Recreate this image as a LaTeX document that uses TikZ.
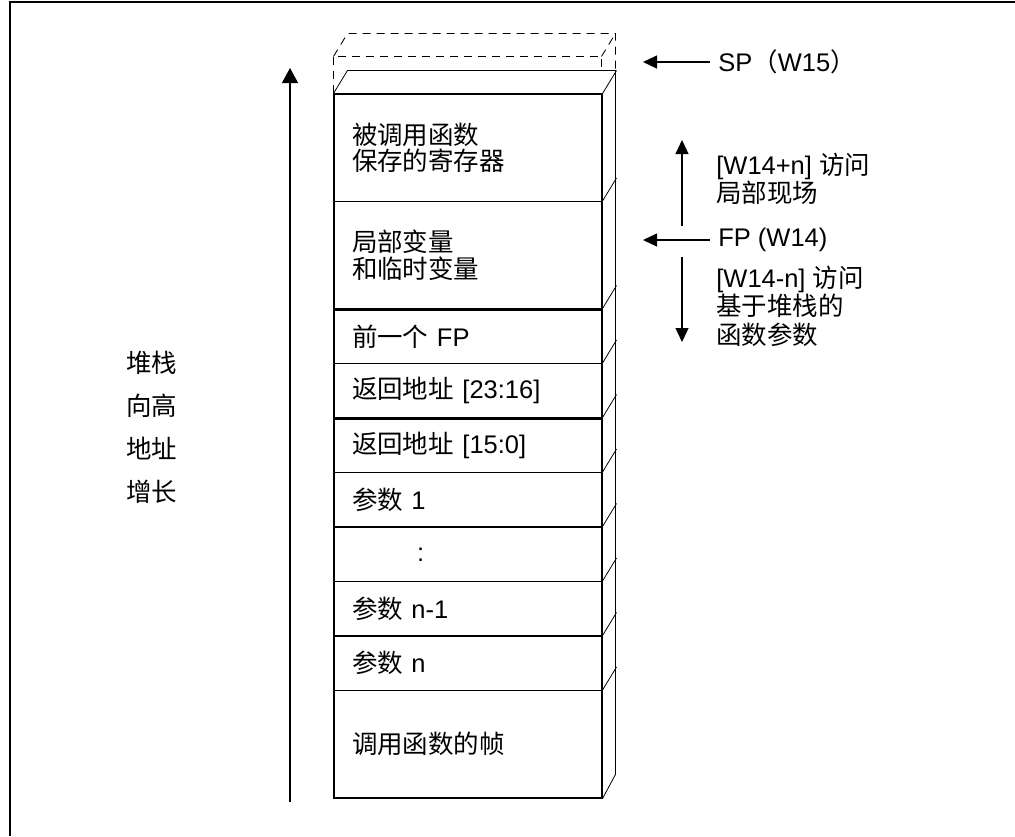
\documentclass[tikz,border=0pt]{standalone}
\usepackage{fontspec}
\setmainfont{Liberation Sans}
\newfontfamily\cjk{Noto Sans CJK SC}
\newcommand{\zh}[1]{{\cjk #1}}
\usetikzlibrary{arrows.meta}

\tikzset{
  slot/.style={draw, line width=0.6pt, minimum width=53.6mm, text width=46.4mm, inner xsep=3.6mm, align=left},
  slim/.style={slot, minimum height=10.9mm},
  tall/.style={slot, minimum height=21.5mm},
  depth/.style={line width=0.45pt},
  slotdash/.style={line width=0.5pt, dash pattern=on 1.6mm off 1.2mm},
  ptr/.style={-{Triangle[length=2.8mm,width=2.6mm]}, line width=0.6pt},
  note/.style={anchor=west, inner sep=1.6mm, align=left},
}

\begin{document}
\begin{tikzpicture}[x=0.2mm, y=-0.2mm, font=\fontsize{14.5}{15}\selectfont]
    \useasboundingbox (0,0) rectangle (1015,836);

    % frame
    \draw[line width=0.4mm] (10,836) -- (10,2) -- (1015,2);

    % stack slots
    \node[tall] (r1) at (468,147.75) {\zh{被调用函数}\\\zh{保存的寄存器}};
    \node[tall] (r2) at (468,255.25) {\zh{局部变量}\\\zh{和临时变量}};
    \node[slim] (r3) at (468,336.25) {\zh{前一个} FP};
    \node[slim] (r4) at (468,390.75) {\zh{返回地址} [23:16]};
    \node[slim] (r5) at (468,445.25) {\zh{返回地址} [15:0]};
    \node[slim] (r6) at (468,499.75) {\zh{参数} 1};
    \node[slim] (r7) at (468,554.25) {\hspace*{13mm}:};
    \node[slim] (r8) at (468,608.75) {\zh{参数} n-1};
    \node[slim] (r9) at (468,663.25) {\zh{参数} n};
    \node[tall] (r10) at (468,744.25) {\zh{调用函数的帧}};

    \draw[line width=1.2pt] (r2.south west) -- (r2.south east);
    \draw[line width=1.2pt] (r4.south west) -- (r4.south east);

    % depth of the stack
    \draw[depth] (r1.north west) -- ++(14,-23) -- ++(268,0) -- ++(0,704) -- (r10.south east);
    \foreach \i in {1,...,10}
        \draw[depth] (r\i.north east) -- ++(14,-23);

    % empty slot above SP
    \draw[slotdash] (r1.north west) -- ++(0,-37) coordinate (spfl) -- ++(268,0) coordinate (spfr) -- ++(0,14);
    \draw[slotdash] (spfl) -- ++(14,-23) -- ++(268,0) -- ++(0,38);
    \draw[slotdash] (spfr) -- ++(14,-23);

    % growth
    \coordinate (gbot) at (290,802);
    \coordinate (gtop) at (290,68);
    \draw[line width=0.6pt, -{Triangle[length=3mm,width=3.2mm]}] (gbot) -- (gtop);
    \node[align=center, font=\fontsize{14.5}{24.4}\selectfont] (grow) at (151.5,427.5)
        {\zh{堆栈}\\\zh{向高}\\\zh{地址}\\\zh{增长}};

    % pointers
    \node[note] (sp) at (710,62) {SP\zh{（}W15\zh{）}};
    \coordinate (sptip) at (643,62);
    \draw[ptr] (sp.west) -- (sptip);

    \node[note] (fp) at (710,240) {FP (W14)};
    \coordinate (fptip) at (643,240);
    \draw[ptr] (fp.west) -- (fptip);

    \coordinate (upb) at (682,226);
    \coordinate (upt) at (682,140);
    \draw[ptr] (upb) -- (upt);
    \node[note, font=\fontsize{14.5}{16.2}\selectfont] (accup) at (708,179)
        {[W14+n] \zh{访问}\\\zh{局部现场}};

    \coordinate (dnt) at (682,257);
    \coordinate (dnb) at (682,342);
    \draw[ptr] (dnt) -- (dnb);
    \node[note, font=\fontsize{14.5}{16.2}\selectfont] (accdn) at (708,306)
        {[W14-n] \zh{访问}\\\zh{基于堆栈的}\\\zh{函数参数}};

\end{tikzpicture}
\end{document}
